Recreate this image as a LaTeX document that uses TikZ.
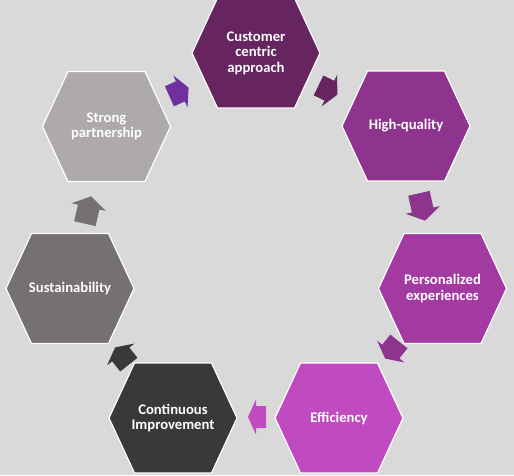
\documentclass[tikz,border=0pt]{standalone}
\usepackage{fontspec}
\setmainfont{Carlito}
\definecolor{bg}{HTML}{D9D9D9}
\definecolor{cA}{HTML}{662460}
\definecolor{cB}{HTML}{8E348E}
\definecolor{cC}{HTML}{A23AA2}
\definecolor{cD}{HTML}{C04BC0}
\definecolor{cE}{HTML}{3A3838}
\definecolor{cF}{HTML}{767171}
\definecolor{cG}{HTML}{AEAAAA}
\definecolor{arrP}{HTML}{7030A0}
\tikzset{
  lbl/.style={text=white, font=\bfseries\fontsize{11}{11.6}\selectfont, align=center, inner sep=0pt},
  hexbox/.style={draw=white, line width=0.9pt},
}
\newcommand\hexa[5]{%
  \filldraw[hexbox, fill=#3] (#1-64,#2) -- (#1-38.5,#2-55) -- (#1+38.5,#2-55) -- (#1+64,#2) -- (#1+38.5,#2+55) -- (#1-38.5,#2+55) -- cycle;
  \node[lbl] (#4) at (#1,#2) {#5};}
\newcommand\blockarrow[6]{% cx cy angle length head colour
  \fill[#6, shift={(#1,#2)}, rotate={-1*(#3)}]
    ({-(#4)/2},-11) -- ({(#4)/2-(#5)},-11) -- ({(#4)/2-(#5)},-17.5) -- ({(#4)/2},0)
    -- ({(#4)/2-(#5)},17.5) -- ({(#4)/2-(#5)},11) -- ({-(#4)/2},11) -- cycle;}
\begin{document}
\begin{tikzpicture}[x=0.75pt,y=-0.75pt]
\path[use as bounding box, fill=bg] (0,0) rectangle (514,475);
\begin{scope}
\clip (0,0) rectangle (514,475);
\hexa{256}{53}{cA}{h1}{Customer\\centric\\approach}
\hexa{406}{126}{cB}{h2}{High-quality}
\hexa{442.5}{288.5}{cC}{h3}{Personalized\\experiences}
\hexa{339}{418}{cD}{h4}{Efficiency}
\hexa{173}{418}{cE}{h5}{Continuous\\Improvement}
\hexa{70}{288.5}{cF}{h6}{Sustainability}
\hexa{106.5}{126.5}{cG}{h7}{Strong\\partnership}
\blockarrow{179}{92}{-24}{21}{9}{arrP}
\blockarrow{328}{90}{26}{21}{9}{cA}
\blockarrow{422}{207}{77.3}{28}{11}{cB}
\blockarrow{392}{350}{128.6}{22}{9}{cB}
\blockarrow{257}{417}{180}{18}{8}{cD}
\blockarrow{122}{356}{-128.5}{22}{9}{cE}
\blockarrow{88}{210}{-77.2}{28}{11}{cF}
\end{scope}
\end{tikzpicture}
\end{document}
